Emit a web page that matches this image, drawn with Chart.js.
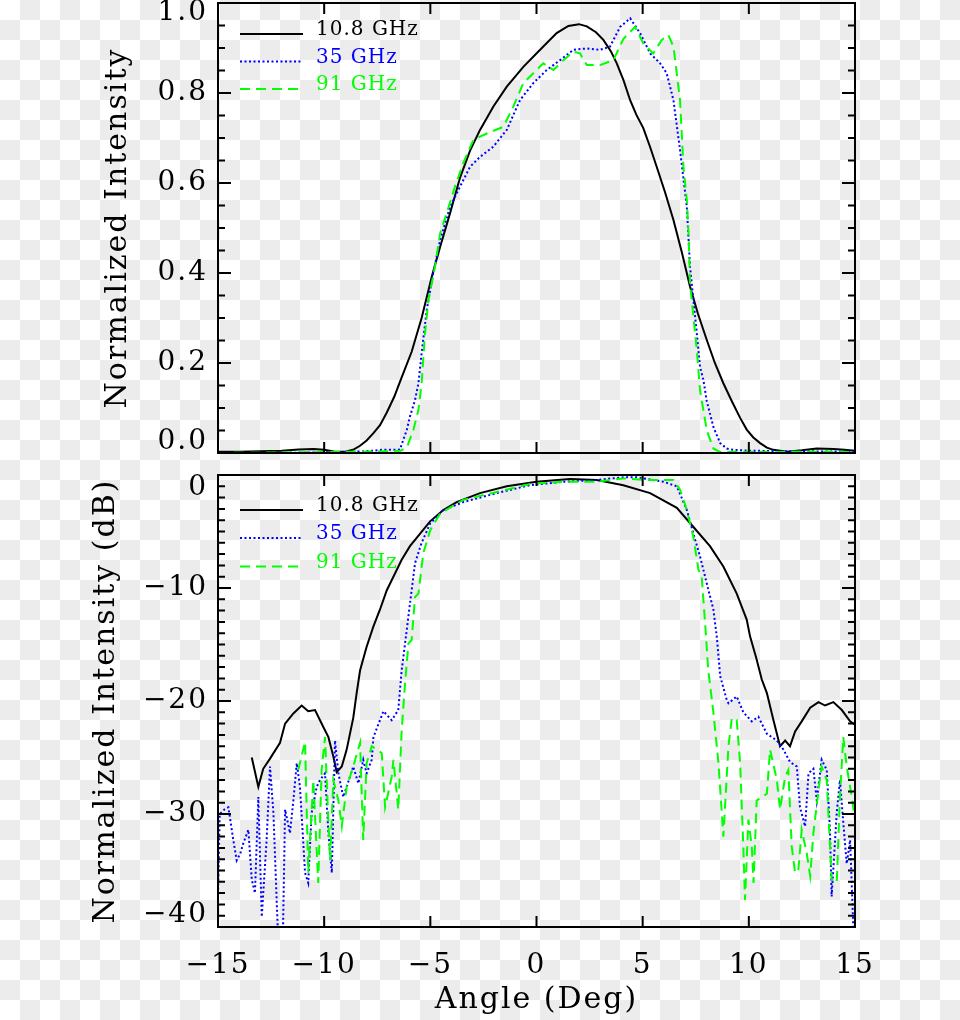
<!DOCTYPE html>
<html>
<head>
<meta charset="utf-8">
<script src="https://cdn.jsdelivr.net/npm/chart.js@4"></script>
<style>
    html, body { margin: 0; padding: 0; }
    body {
        width: 960px; height: 1020px; position: relative; overflow: hidden;
        background-color: #fff;
        background-image: conic-gradient(#ececec 25%, #fff 0 50%, #ececec 0 75%, #fff 0);
        background-size: 40px 40px;
    }
    canvas { position: absolute; left: 0; }
    #chartTop { top: -30px; }
    #chartBottom { top: 440px; }
</style>
</head>
<body>
<canvas id="chartTop" width="960" height="510"></canvas>
<canvas id="chartBottom" width="960" height="580"></canvas>
<script>
let seriesNames = ["10.8 GHz", "35 GHz", "91 GHz"];
let angleTicks = [-15, -10, -5, 0, 5, 10, 15];
let linTicks = [0, 0.2, 0.4, 0.6, 0.8, 1.0];
let dbTicks = [-40, -30, -20, -10, 0];

// top panel, linear intensity
let angle10T = [-15, -14, -13, -12, -11.2, -10.5, -10, -9.5, -9, -8.6, -8.31, -8, -7.68, -7.37, -7.05, -6.7, -6.35, -5.88, -5.41, -4.93, -4.54, -4.07, -3.6, -3.13, -2.66, -2.03, -1.4, -0.62, 0.17, 0.95, 1.5, 2, 2.37, 2.8, 3.15, 3.5, 3.78, 4.1, 4.41, 4.7, 5.03, 5.35, 5.66, 6.05, 6.45, 6.85, 7.23, 7.6, 8.02, 8.4, 8.8, 9.2, 9.59, 9.9, 10.2, 10.53, 10.85, 11.16, 11.8, 12.5, 13.2, 14, 14.5, 15];
let lin10T = [0.003, 0.003, 0.004, 0.005, 0.008, 0.009, 0.007, 0.003, 0.003, 0.008, 0.016, 0.028, 0.044, 0.062, 0.09, 0.125, 0.168, 0.225, 0.3, 0.392, 0.458, 0.533, 0.612, 0.672, 0.718, 0.77, 0.814, 0.858, 0.896, 0.933, 0.949, 0.953, 0.948, 0.935, 0.918, 0.893, 0.866, 0.828, 0.784, 0.752, 0.722, 0.68, 0.636, 0.58, 0.518, 0.445, 0.37, 0.31, 0.251, 0.2, 0.155, 0.115, 0.078, 0.052, 0.035, 0.022, 0.012, 0.007, 0.003, 0.006, 0.01, 0.009, 0.007, 0.005];

let angle35T = [-15, -12, -9, -8, -7.3, -6.6, -6.43, -6.27, -6.11, -5.96, -5.72, -5.56, -5.41, -5.17, -4.86, -4.54, -4.07, -3.6, -3.13, -2.66, -2.03, -1.4, -0.78, -0.15, 0.48, 1.11, 1.74, 2.37, 2.99, 3.46, 3.94, 4.41, 4.88, 5.35, 5.82, 6.13, 6.45, 6.76, 7.08, 7.23, 7.39, 7.55, 7.7, 7.86, 8.02, 8.33, 8.65, 8.96, 9.27, 10, 12, 15];
let lin35T = [0, 0, 0.002, 0.004, 0.007, 0.007, 0.008, 0.03, 0.051, 0.081, 0.118, 0.155, 0.222, 0.318, 0.4, 0.473, 0.547, 0.592, 0.636, 0.658, 0.681, 0.718, 0.784, 0.822, 0.851, 0.873, 0.896, 0.899, 0.896, 0.903, 0.947, 0.966, 0.933, 0.888, 0.866, 0.844, 0.784, 0.673, 0.547, 0.414, 0.34, 0.266, 0.192, 0.162, 0.115, 0.058, 0.022, 0.01, 0.007, 0.005, 0.004, 0.003];

let angle91T = [-15, -10, -8, -7, -6.4, -6.11, -5.8, -5.56, -5.41, -5.25, -5.09, -4.78, -4.54, -4.23, -3.84, -3.45, -2.97, -2.34, -1.56, -1.09, -0.62, -0.15, 0.32, 0.8, 1.27, 1.74, 2.05, 2.37, 2.99, 3.62, 4.09, 4.64, 5.03, 5.5, 5.9, 6.21, 6.45, 6.76, 6.92, 7.08, 7.16, 7.23, 7.39, 7.55, 7.7, 8.02, 8.33, 8.65, 9.5, 11, 13, 15];
let lin91T = [0, 0.002, 0.003, 0.004, 0.005, 0.012, 0.051, 0.096, 0.155, 0.266, 0.34, 0.414, 0.488, 0.533, 0.592, 0.644, 0.696, 0.71, 0.725, 0.77, 0.822, 0.844, 0.866, 0.851, 0.873, 0.892, 0.888, 0.862, 0.862, 0.873, 0.92, 0.947, 0.91, 0.888, 0.918, 0.929, 0.903, 0.784, 0.636, 0.562, 0.488, 0.377, 0.303, 0.229, 0.14, 0.05, 0.01, 0.002, 0.003, 0.002, 0.003, 0.002];

// bottom panel, dB
let angle10D = [-13.41, -13.1, -12.87, -12.55, -12.08, -11.84, -11.45, -11.06, -10.75, -10.43, -10.04, -9.8, -9.57, -9.41, -9.17, -8.94, -8.63, -8.47, -8.31, -8, -7.68, -7.37, -7.05, -6.74, -6.35, -5.96, -5.49, -5.01, -4.39, -3.76, -2.66, -1.4, 0, 1.58, 2.84, 4.09, 5.35, 6.61, 7.39, 8.17, 8.8, 9.43, 9.9, 10.06, 10.35, 10.61, 10.85, 11.16, 11.47, 11.71, 11.94, 12.18, 12.49, 12.89, 13.28, 13.59, 13.98, 14.38, 14.77, 15];
let db10D = [-25, -27.6, -26, -25.1, -23.7, -22, -21.1, -20.4, -20.9, -20.8, -22.3, -23.2, -24.9, -26.3, -25.8, -24.3, -21.5, -19.3, -17.3, -15.2, -13.4, -11.9, -10.2, -9, -7.5, -6.3, -5.2, -4.1, -3.1, -2.4, -1.6, -1, -0.6, -0.35, -0.44, -0.9, -1.6, -2.9, -4.6, -6.3, -8.1, -10.5, -12.8, -14.3, -16.2, -18.1, -19.3, -21.7, -24, -23.5, -24, -22.7, -21.8, -20.6, -20.1, -20.4, -20.1, -20.8, -21.8, -22.1];

let angle35D = [-15, -14.92, -14.7, -14.51, -14.28, -14.12, -13.95, -13.81, -13.57, -13.41, -13.26, -13.1, -12.94, -12.71, -12.55, -12.39, -12.16, -11.95, -11.84, -11.61, -11.45, -11.29, -11.14, -10.9, -10.75, -10.59, -10.35, -10.2, -9.96, -9.8, -9.64, -9.49, -9.33, -9.1, -8.94, -8.63, -8.39, -8.16, -8, -7.76, -7.68, -7.21, -6.82, -6.51, -6.35, -6.11, -5.96, -5.72, -5.41, -5.01, -4.39, -3.45, -1.87, -0.3, 1.27, 2.84, 4.09, 4.72, 5.98, 6.61, 7.08, 7.39, 7.7, 8.02, 8.33, 8.49, 8.65, 8.96, 9.04, 9.43, 9.74, 10.14, 10.45, 10.85, 11.32, 11.63, 11.94, 12.26, 12.41, 12.65, 12.81, 13.04, 13.2, 13.43, 13.67, 13.82, 13.9, 14.14, 14.29, 14.45, 14.61, 14.77, 14.92, 15];
let db35D = [-37.5, -30, -29.6, -29.4, -32.3, -34.1, -33.5, -32.6, -31.4, -35.8, -37, -28.5, -39.1, -32.3, -25.8, -29.9, -41.5, -41.5, -29.6, -31.7, -28.8, -25.5, -27.6, -35.2, -36.1, -29.9, -27.6, -27, -26.4, -31.7, -35.2, -23.5, -26.4, -28.5, -27.6, -25.8, -27.3, -25.2, -26.4, -25.2, -23.2, -20.9, -21.7, -20.8, -17.3, -13.7, -11.4, -7.8, -6, -4.3, -3.1, -2.4, -1.6, -0.9, -0.6, -0.44, -0.2, -0.2, -0.6, -1, -3.1, -5.2, -7.2, -9.6, -11.9, -14.3, -17.8, -19.9, -20.2, -19.6, -21, -21.8, -21.4, -22.9, -23.5, -24.3, -25.4, -25.8, -29.4, -31.1, -26.4, -26, -28.8, -25.2, -26.1, -31.4, -37.3, -29.9, -27, -30.8, -34.4, -32.3, -40, -41];

let angle91D = [-11.22, -10.9, -10.82, -10.75, -10.51, -10.28, -10.12, -9.96, -9.8, -9.72, -9.57, -9.33, -9.17, -8.94, -8.63, -8.31, -8.16, -8, -7.76, -7.29, -7.13, -6.82, -6.74, -6.51, -6.35, -6.19, -6.03, -5.88, -5.72, -5.56, -5.33, -5.01, -4.54, -3.45, -1.87, -0.3, 1.27, 2.84, 4.09, 5.03, 5.98, 6.45, 6.76, 7.08, 7.39, 7.63, 7.78, 7.94, 8.09, 8.33, 8.57, 8.8, 9.04, 9.2, 9.43, 9.59, 9.74, 9.82, 9.98, 10.14, 10.22, 10.37, 10.61, 10.85, 11, 11.32, 11.47, 11.71, 11.86, 12.02, 12.18, 12.33, 12.49, 12.73, 12.89, 13.04, 13.28, 13.43, 13.67, 13.9, 14.14, 14.29, 14.45, 14.61, 14.85, 15];
let db91D = [-26.1, -23.6, -29.9, -35.2, -27, -36.1, -26.1, -23.2, -30.8, -34.1, -27, -28.8, -31.1, -27.6, -25.8, -23.7, -32.3, -25.5, -24, -24.6, -29.4, -26.7, -25.2, -29.6, -22.6, -18.4, -14.9, -14.6, -10.8, -10.5, -6.9, -4.9, -3.4, -2.2, -1.5, -0.8, -0.6, -0.6, -0.3, -0.44, -0.44, -0.44, -1.3, -3.1, -5.5, -8.4, -9, -13.1, -17.3, -21, -25.5, -32, -24, -21.5, -21.7, -25.5, -32.9, -37.6, -30.5, -32.9, -36.1, -28.8, -28.5, -28.2, -24.3, -27, -29.6, -26.7, -26.1, -32.9, -35.2, -35, -31.4, -33.5, -35.5, -31.7, -27.9, -25.8, -27, -35.8, -36.1, -28.5, -23.2, -25.8, -28.5, -30.5];

let serif = "'DejaVu Serif', 'Liberation Serif', serif";

function toPoints(xs, ys) {
    return xs.map((x, i) => ({ x: x, y: ys[i] }));
}

function minusSign(v) {
    return v < 0 ? "\u2212" + Math.abs(v) : String(v);
}

function makeDatasets(xs10, ys10, xs35, ys35, xs91, ys91) {
    return [
        {
            label: seriesNames[0],
            data: toPoints(xs10, ys10),
            borderColor: "#000000",
            borderWidth: 2,
            pointRadius: 0,
            order: 3,
        },
        {
            label: seriesNames[1],
            data: toPoints(xs35, ys35),
            borderColor: "#0000ff",
            borderWidth: 2,
            borderDash: [2, 2.5],
            pointRadius: 0,
            order: 2,
        },
        {
            label: seriesNames[2],
            data: toPoints(xs91, ys91),
            borderColor: "#00ff00",
            borderWidth: 2,
            borderDash: [10, 6],
            pointRadius: 0,
            order: 1,
        },
    ];
}

let framePlugin = {
    id: "frame",
    beforeDraw(chart, args, opts) {
        chart.ctx.letterSpacing = "2px";
        let items = chart.scales.y.getLabelItems();
        if (!items.shifted) {
            items[0].options.translation[1] -= opts.lowShift;
            items[items.length - 1].options.translation[1] += opts.highShift;
            items.shifted = true;
        }
    },
    afterDatasetsDraw(chart, args, opts) {
        let ctx = chart.ctx;
        let area = chart.chartArea;
        let xs = chart.scales.x;
        let ys = chart.scales.y;
        ctx.save();
        ctx.strokeStyle = "#000";
        ctx.lineWidth = 2;
        ctx.setLineDash([]);
        ctx.strokeRect(area.left, area.top, area.right - area.left, area.bottom - area.top);
        ctx.beginPath();
        angleTicks.forEach((v) => {
            let px = xs.getPixelForValue(v);
            ctx.moveTo(px, area.bottom);
            ctx.lineTo(px, area.bottom - 11);
            ctx.moveTo(px, area.top);
            ctx.lineTo(px, area.top + 11);
        });
        let n = Math.round((ys.max - ys.min) / opts.minorStep);
        for (let i = 0; i <= n; i++) {
            let py = ys.getPixelForValue(ys.min + i * opts.minorStep);
            let len = i % opts.perMajor == 0 ? 13 : 7;
            ctx.moveTo(area.left, py);
            ctx.lineTo(area.left + len, py);
            ctx.moveTo(area.right, py);
            ctx.lineTo(area.right - len, py);
        }
        ctx.stroke();
        ctx.restore();
    },
    afterDraw(chart, args, opts) {
        let ctx = chart.ctx;
        let area = chart.chartArea;
        ctx.save();
        ctx.letterSpacing = "1px";
        ctx.font = "20px " + serif;
        ctx.textAlign = "left";
        ctx.textBaseline = "alphabetic";
        chart.data.datasets.forEach((ds, i) => {
            let y = area.top + opts.legendY[i];
            ctx.strokeStyle = ds.borderColor;
            ctx.lineWidth = 2;
            ctx.setLineDash(ds.borderDash || []);
            ctx.beginPath();
            ctx.moveTo(area.left + 22, y);
            ctx.lineTo(area.left + 85, y);
            ctx.stroke();
            ctx.fillStyle = ds.borderColor;
            ctx.fillText(ds.label, area.left + 98, y + 1);
        });
        ctx.restore();
        chart.ctx.letterSpacing = "0px";
    },
};

let tickFont = { family: serif, size: 28 };
let titleFont = { family: serif, size: 30 };

let topChart = new Chart(document.getElementById("chartTop").getContext("2d"), {
    type: "line",
    data: {
        datasets: makeDatasets(angle10T, lin10T, angle35T, lin35T, angle91T, lin91T),
    },
    options: {
        responsive: false,
        animation: false,
        devicePixelRatio: 1,
        layout: { padding: { left: 0, right: 105, top: 33, bottom: 27 } },
        plugins: {
            legend: { display: false },
            tooltip: { enabled: false },
            frame: { minorStep: 0.05, perMajor: 4, lowShift: 11, highShift: 10, legendY: [31, 58.5, 86] },
        },
        scales: {
            x: {
                type: "linear",
                min: -15,
                max: 15,
                afterFit: (s) => { s.height = 0; },
                ticks: { display: false },
                grid: { display: false, drawTicks: false },
                border: { display: false },
            },
            y: {
                min: 0,
                max: 1,
                afterBuildTicks: (s) => { s.ticks = linTicks.map((v) => ({ value: v })); },
                afterFit: (s) => { s.width = 218; },
                ticks: { font: tickFont, color: "#000", padding: 10, callback: (v) => v.toFixed(1) },
                grid: { display: false, drawTicks: false },
                border: { display: false },
                title: { display: true, text: "Normalized Intensity", font: titleFont, color: "#000", padding: { top: 100 } },
            },
        },
    },
    plugins: [framePlugin],
});

let bottomChart = new Chart(document.getElementById("chartBottom").getContext("2d"), {
    type: "line",
    data: {
        datasets: makeDatasets(angle10D, db10D, angle35D, db35D, angle91D, db91D),
    },
    options: {
        responsive: false,
        animation: false,
        devicePixelRatio: 1,
        layout: { padding: { left: 0, right: 105, top: 35, bottom: 0 } },
        plugins: {
            legend: { display: false },
            tooltip: { enabled: false },
            frame: { minorStep: 1, perMajor: 10, lowShift: 12, highShift: 13, legendY: [35, 63, 91.5] },
        },
        scales: {
            x: {
                type: "linear",
                min: -15,
                max: 15,
                afterBuildTicks: (s) => { s.ticks = angleTicks.map((v) => ({ value: v })); },
                afterFit: (s) => { s.height = 93; },
                ticks: { font: tickFont, color: "#000", padding: 22, maxRotation: 0, callback: minusSign },
                grid: { display: false, drawTicks: false },
                border: { display: false },
                title: { display: true, text: "Angle (Deg)", font: titleFont, color: "#000", padding: { bottom: 2 } },
            },
            y: {
                min: -40,
                max: 0,
                afterBuildTicks: (s) => { s.ticks = dbTicks.map((v) => ({ value: v })); },
                afterFit: (s) => { s.width = 218; },
                ticks: { font: tickFont, color: "#000", padding: 10, callback: minusSign },
                grid: { display: false, drawTicks: false },
                border: { display: false },
                title: { display: true, text: "Normalized Intensity (dB)", font: titleFont, color: "#000", padding: { top: 88 } },
            },
        },
    },
    plugins: [framePlugin],
});
</script>
</body>
</html>
